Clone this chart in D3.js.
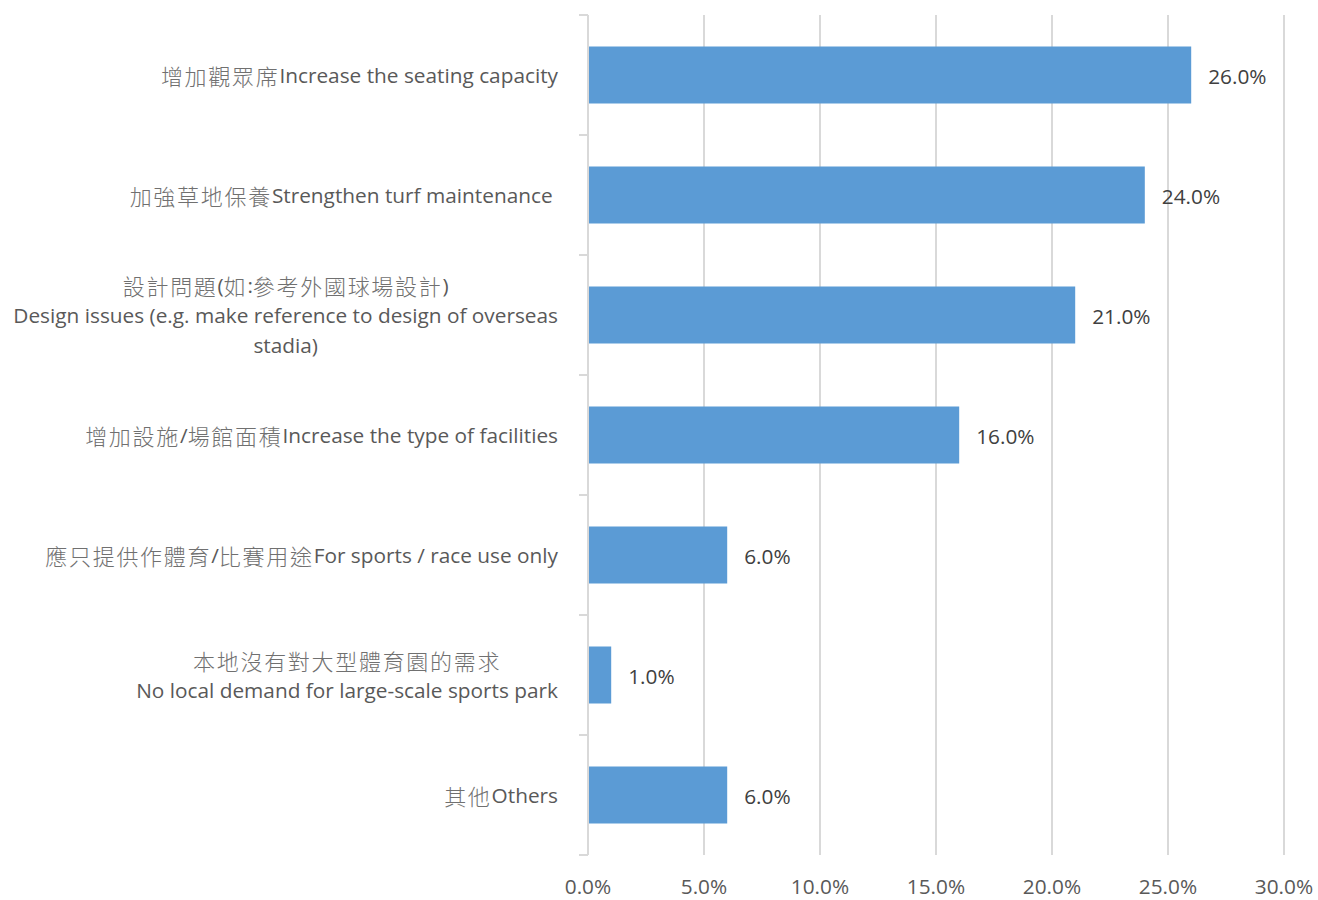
<!DOCTYPE html>
<html><head><meta charset="utf-8">
<script src="https://cdn.jsdelivr.net/npm/d3@7"></script>
<style>
body{margin:0;background:#fff;}
svg text{font-family:"Open Sans","Noto Sans CJK TC",sans-serif;white-space:pre;}
</style></head>
<body>
<svg id="chart" width="1318" height="900"></svg>
<script>
const categories = [
  ["增加觀眾席Increase the seating capacity"],
  ["加強草地保養Strengthen turf maintenance "],
  ["設計問題(如:參考外國球場設計)", "Design issues (e.g. make reference to design of overseas", "stadia)"],
  ["增加設施/場館面積Increase the type of facilities"],
  ["應只提供作體育/比賽用途For sports / race use only"],
  ["本地沒有對大型體育園的需求", "No local demand for large-scale sports park"],
  ["其他Others"]
];
const values = [26, 24, 21, 16, 6, 1, 6];
const tickValues = [0, 5, 10, 15, 20, 25, 30];
const tickLabels = ["0.0%", "5.0%", "10.0%", "15.0%", "20.0%", "25.0%", "30.0%"];

(function(){
const svg = d3.select("#chart");
const pL = 588, pR = 1284, pT = 15, pB = 855;
const x = d3.scaleLinear().domain([0, 30]).range([pL, pR]);
const y = d3.scaleBand().domain(d3.range(categories.length)).range([pT, pB]).paddingInner(0.525).paddingOuter(0.2625);
const grid = "#d9d9d9";
const fs = 20.8;

svg.append("g").selectAll("line").data(tickValues.filter(d => d > 0)).join("line")
  .attr("x1", d => x(d)).attr("x2", d => x(d)).attr("y1", pT).attr("y2", pB)
  .attr("stroke", grid).attr("stroke-width", 2);

svg.append("g").selectAll("rect").data(values).join("rect")
  .attr("x", x(0) + 1).attr("y", (d, i) => y(i))
  .attr("width", d => x(d) - x(0) - 1).attr("height", y.bandwidth())
  .attr("fill", "#5b9bd5");

const step = (pB - pT) / categories.length;
svg.append("line").attr("x1", pL).attr("x2", pL).attr("y1", pT).attr("y2", pB)
  .attr("stroke", grid).attr("stroke-width", 2);
svg.append("g").selectAll("line").data(d3.range(categories.length + 1)).join("line")
  .attr("x1", pL - 9).attr("x2", pL).attr("y1", d => pT + d * step).attr("y2", d => pT + d * step)
  .attr("stroke", grid).attr("stroke-width", 2);

svg.append("g").selectAll("text").data(tickValues).join("text")
  .attr("x", d => x(d)).attr("y", 886).attr("text-anchor", "middle").attr("dominant-baseline", "central")
  .attr("font-size", fs).attr("fill", "#595959").text((d, i) => tickLabels[i]);

svg.append("g").selectAll("text").data(values).join("text")
  .attr("x", d => x(d) + 17).attr("y", (d, i) => y(i) + y.bandwidth() / 2 + 1)
  .attr("dominant-baseline", "central").attr("font-size", fs).attr("fill", "#404040")
  .text(d => d.toFixed(1) + "%");

const lineH = 30;
const labelRight = 558;
const cjk = /[\u3000-\u9fff\uff00-\uffef]/;
function addRich(textSel, str) {
  let runs = [], cur = "", curC = null;
  for (const ch of str) {
    const c = cjk.test(ch);
    if (curC === null || c === curC) { cur += ch; curC = c; }
    else { runs.push([cur, curC]); cur = ch; curC = c; }
  }
  if (cur) runs.push([cur, curC]);
  runs.forEach(([t, c]) => {
    const ts = textSel.append("tspan").text(t)
      .attr("fill", c ? "#707070" : "#595959")
      .attr("font-weight", c ? 300 : 400)
      .attr("font-family", c ? "'Noto Sans CJK TC'" : "'Open Sans'");
    if (c) ts.attr("font-size", 22).attr("letter-spacing", 1.7);
  });
}
categories.forEach((lines, i) => {
  const cy = y(i) + y.bandwidth() / 2;
  const g = svg.append("g");
  const texts = lines.map((ln, k) => {
    const t = g.append("text").attr("font-size", fs).attr("dominant-baseline", "central")
      .attr("y", cy + (k - (lines.length - 1) / 2) * lineH);
    addRich(t, ln);
    return t;
  });
  const widths = texts.map(t => t.node().getComputedTextLength());
  const maxW = d3.max(widths);
  const cx = labelRight - maxW / 2;
  texts.forEach(t => t.attr("x", cx).attr("text-anchor", "middle"));
});
})();
</script>
</body></html>
